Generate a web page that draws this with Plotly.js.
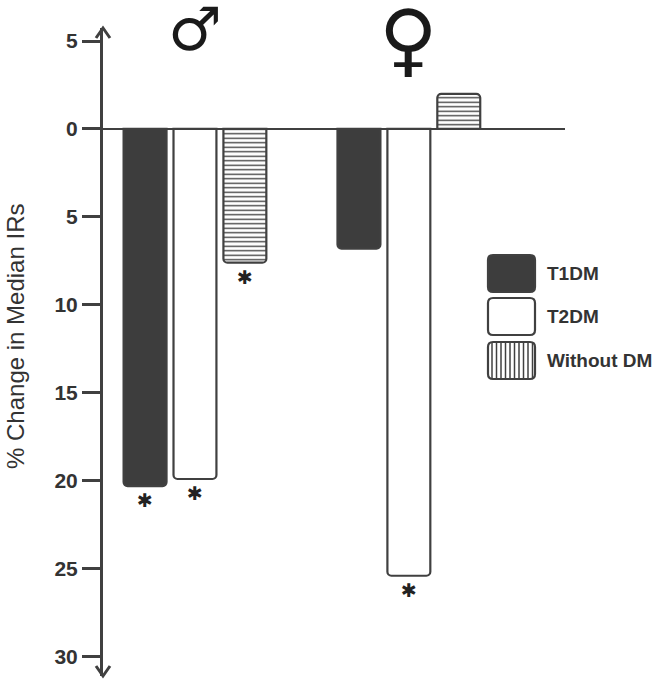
<!DOCTYPE html>
<html>
<head>
<meta charset="utf-8">
<script src="https://cdn.plot.ly/plotly-3.0.1.min.js"></script>
<style>body{margin:0;background:#fff}</style>
</head>
<body>
<div id="plot" style="width:657px;height:680px"></div>
<script>
// data (decreases are negative, axis labels show magnitude)
const groups = ['Male', 'Female'];
const groupSymbols = ['\u2642', '\u2640'];
const seriesNames = ['T1DM', 'T2DM', 'Without DM'];
const t1dm = [-20.3, -6.8];
const t2dm = [-19.9, -25.4];
const withoutDm = [-7.6, 2.0];
const t1dmSig = [true, false];
const t2dmSig = [true, true];
const withoutDmSig = [true, false];
const tickVals = [5, 0, -5, -10, -15, -20, -25, -30];
const tickText = ['5', '0', '5', '10', '15', '20', '25', '30'];

const ink = '#404040';
const W = 657, H = 680;
const margin = {l: 103, r: 92, t: 28, b: 4, pad: 0};
const plotW = W - margin.l - margin.r;
const plotH = H - margin.t - margin.b;
function px(x) { return (x - margin.l) / plotW; }
function py(y) { return (H - margin.b - y) / plotH; }

function star(flags) {
	return flags.map(function (f) { return f ? '\u2731' : ''; });
}

function barTrace(name, values, flags, marker) {
	return {
		type: 'bar',
		name: name,
		x: groups,
		y: values,
		text: star(flags),
		textposition: 'outside',
		textfont: {family: 'DejaVu Sans', size: 19, color: '#222'},
		cliponaxis: false,
		hoverinfo: 'y',
		showlegend: false,
		marker: Object.assign({cornerradius: 4, line: {color: ink, width: 2.2}}, marker)
	};
}

const data = [
	barTrace(seriesNames[0], t1dm, t1dmSig, {color: '#3d3d3d'}),
	barTrace(seriesNames[1], t2dm, t2dmSig, {color: '#ffffff'}),
	barTrace(seriesNames[2], withoutDm, withoutDmSig, {
		color: '#ffffff',
		pattern: {shape: '-', fgcolor: ink, bgcolor: '#ffffff', size: 4.5, solidity: 0.3}
	})
];

// rounded box in pixel coordinates -> paper path
function roundedBox(x0, y0, x1, y1, r) {
	const p = function (x, y) { return px(x) + ',' + py(y); };
	return 'M' + p(x0 + r, y0) + ' L' + p(x1 - r, y0) + ' Q' + p(x1, y0) + ' ' + p(x1, y0 + r) +
		' L' + p(x1, y1 - r) + ' Q' + p(x1, y1) + ' ' + p(x1 - r, y1) +
		' L' + p(x0 + r, y1) + ' Q' + p(x0, y1) + ' ' + p(x0, y1 - r) +
		' L' + p(x0, y0 + r) + ' Q' + p(x0, y0) + ' ' + p(x0 + r, y0) + ' Z';
}

const shapes = [];
const annotations = [];

// axis arrow heads
shapes.push({type: 'path', xref: 'paper', yref: 'paper', xsizemode: 'pixel', ysizemode: 'pixel',
	xanchor: 0, yanchor: 1, path: 'M -7 -10 L 0 0 L 7 -10', line: {color: ink, width: 3}});
shapes.push({type: 'path', xref: 'paper', yref: 'paper', xsizemode: 'pixel', ysizemode: 'pixel',
	xanchor: 0, yanchor: 0, path: 'M -7 10 L 0 0 L 7 10', line: {color: ink, width: 3}});

// legend drawn as boxes
const legendFill = ['#3d3d3d', '#ffffff', '#ffffff'];
const legendTop = [255, 298, 342];
legendTop.forEach(function (top, i) {
	shapes.push({type: 'path', xref: 'paper', yref: 'paper', path: roundedBox(488, top, 535, top + 37, 5),
		fillcolor: legendFill[i], line: {color: ink, width: 2.2}, layer: 'above'});
	annotations.push({xref: 'paper', yref: 'paper', x: px(545), y: py(top + 18.5), xanchor: 'left',
		yanchor: 'middle', showarrow: false, text: '<b>' + seriesNames[i] + '</b>',
		font: {family: 'Liberation Sans, Arial, sans-serif', size: 19, color: '#333'}});
});
for (let x = 492; x < 533; x += 4.5) {
	shapes.push({type: 'line', xref: 'paper', yref: 'paper', x0: px(x), x1: px(x),
		y0: py(343), y1: py(378), line: {color: ink, width: 1.5}, layer: 'above'});
}

// sex symbols above groups
const symbolSize = [60, 80];
const symbolY = [29, 40];
groups.forEach(function (g, i) {
	annotations.push({x: g, xref: 'x', yref: 'paper', y: py(symbolY[i]), yanchor: 'middle',
		showarrow: false, text: groupSymbols[i],
		font: {family: 'DejaVu Sans', size: symbolSize[i], color: '#1a1a1a'}});
});

// y axis title
annotations.push({xref: 'paper', yref: 'paper', x: px(15), y: py(337), xanchor: 'center', yanchor: 'middle',
	textangle: -90, showarrow: false, text: '% Change in Median IRs',
	font: {family: 'Liberation Sans, Arial, sans-serif', size: 24, color: '#333'}});

const layout = {
	width: W,
	height: H,
	margin: margin,
	paper_bgcolor: '#ffffff',
	plot_bgcolor: '#ffffff',
	barmode: 'group',
	bargap: 0.3,
	bargroupgap: 0.14,
	showlegend: false,
	font: {family: 'Liberation Sans, Arial, sans-serif', color: '#333'},
	xaxis: {
		range: [-0.43, 1.73],
		showticklabels: false,
		showgrid: false,
		zeroline: false,
		ticks: ''
	},
	yaxis: {
		range: [-31.1, 5.74],
		tickvals: tickVals,
		ticktext: tickText,
		ticks: 'outside',
		ticklen: 18,
		tickwidth: 3,
		tickcolor: ink,
		tickfont: {size: 21, color: '#333', weight: 'bold'},
		showline: true,
		linewidth: 3,
		linecolor: ink,
		showgrid: false,
		zeroline: true,
		zerolinecolor: ink,
		zerolinewidth: 2
	},
	shapes: shapes,
	annotations: annotations
};

Plotly.newPlot('plot', data, layout, {displayModeBar: false, staticPlot: true});
</script>
</body>
</html>
